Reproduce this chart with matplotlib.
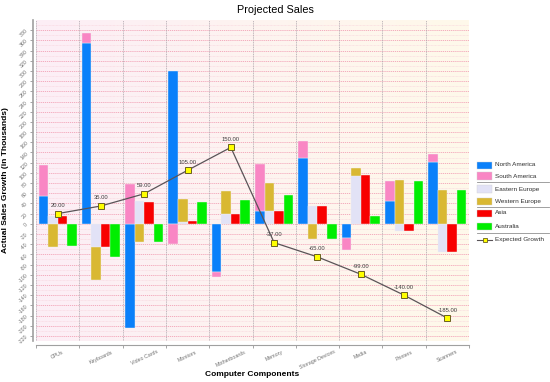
import matplotlib
matplotlib.use("Agg")
import matplotlib.pyplot as plt
from matplotlib.patches import Rectangle
from matplotlib.lines import Line2D
from matplotlib.colors import LinearSegmentedColormap
import numpy as np

plt.rcParams["font.family"] = ["Liberation Sans", "DejaVu Sans"]

# ─────────────────────────────────────────────
# DATA
# ─────────────────────────────────────────────
categories = ["CPUs", "Keyboards", "Video Cards", "Monitors", "Motherboards",
              "Memory", "Storage Devices", "Media", "Printers", "Scanners"]

north_america = [55, 355, -205, 300, -95, 25, 130, -27, 44, 122]
south_america = [60, 20, 78, -40, -10, 93, 33, -25, 40, 15]
eastern_europe = [15, -45, 45, 4, 19, 25, 35, 94, -15, -55]
western_europe = [-45, -65, -35, 44, 45, 55, -30, 16, 86, 66]
asia = [15, -45, 42, 5, 20, 25, 35, 95, -14, -55]
australia = [-44, -65, -35, 42, 46, 56, -29, 15, 85, 66]
expected_growth = [20, 35, 59, 105, 150, -37, -65, -99, -140, -185]

y_ticks = list(range(-220, 381, 20))

C_NA = "#0A80FA"
C_SA = "#F986C4"
C_EE = "#E2E2F6"
C_WE = "#D9B832"
C_ASIA = "#F80000"
C_AUS = "#00EE00"


def stack_bottoms(first, second):
    """bottoms for a two-part stack, positives and negatives piled separately"""
    b1 = np.zeros(len(first))
    b2 = np.array([f if (f >= 0) == (s >= 0) else 0 for f, s in zip(first, second)], float)
    return b1, b2


def fx(px):
    return px / 550


def fy(py):
    return 1 - py / 382


# ─────────────────────────────────────────────
# FIGURE
# ─────────────────────────────────────────────
fig = plt.figure(figsize=(5.5, 3.82), dpi=100)
ax = fig.add_axes([fx(36), fy(341), 433 / 550, 321 / 382])

x = np.arange(len(categories))
ax.set_xlim(-0.5, len(categories) - 0.5)
ax.set_ylim(-230, 400)

# background gradient pink -> cream
grad = np.linspace(0, 1, 256).reshape(1, -1)
bg = LinearSegmentedColormap.from_list("bg", ["#FCEEF6", "#FFF9EA"])
ax.imshow(grad, cmap=bg, aspect="auto", extent=(-0.5, len(categories) - 0.5, -230, 400),
          zorder=0)

# grid
for v in np.arange(-230, 400, 10):
    major = v % 20 == 0
    ax.axhline(v, color="#F2A2B6" if major else "#F8D0DA", lw=0.6 if major else 0.4,
               ls=(0, (1.5, 1)), zorder=1)
for b in np.arange(-0.5, len(categories), 1):
    ax.axvline(b, color="#A8A0A8", lw=0.5, ls=(0, (1.5, 1)), zorder=1)

w = 0.22
offs = [-1.5 * w, -0.5 * w, 0.5 * w, 1.5 * w]
edge = dict(edgecolor="#F0F0F0", linewidth=0.3, zorder=3)

b1, b2 = stack_bottoms(north_america, south_america)
ax.bar(x + offs[0], north_america, w, bottom=b1, color=C_NA, **edge)
ax.bar(x + offs[0], south_america, w, bottom=b2, color=C_SA, **edge)
b1, b2 = stack_bottoms(eastern_europe, western_europe)
ax.bar(x + offs[1], eastern_europe, w, bottom=b1, color=C_EE, **edge)
ax.bar(x + offs[1], western_europe, w, bottom=b2, color=C_WE, **edge)
ax.bar(x + offs[2], asia, w, color=C_ASIA, **edge)
ax.bar(x + offs[3], australia, w, color=C_AUS, **edge)

ax.plot(x, expected_growth, color="#5A5458", lw=0.9, marker="s", ms=4.2,
        mfc="#FFFF00", mec="#6A6020", mew=0.7, zorder=5)
for xi, v in zip(x, expected_growth):
    ax.annotate(f"{v:.2f}", (xi, v), xytext=(0, 4),
                textcoords="offset points", ha="center", va="bottom", fontsize=4.2,
                color="#404040", zorder=6)

# axes styling
for s in ["top", "right"]:
    ax.spines[s].set_visible(False)
ax.spines["left"].set_position(("outward", 2))
ax.spines["bottom"].set_position(("outward", 3))
ax.spines["left"].set_color("#A0A0A0")
ax.spines["bottom"].set_color("#A0A0A0")
ax.spines["left"].set_linewidth(1.2)
ax.spines["bottom"].set_linewidth(0.8)

ax.set_yticks(y_ticks)
ax.set_yticklabels([str(t) for t in y_ticks], rotation=45, fontsize=3.8, color="#707070")
ax.tick_params(axis="y", length=2, width=0.5, color="#808080", pad=1)

ax.set_xticks(np.arange(-0.5, len(categories), 1), minor=False)
ax.set_xticklabels([])
ax.tick_params(axis="x", length=2.5, width=0.5, color="#808080")
ax.set_xticks(x, minor=True)
ax.set_xticklabels(categories, minor=True, rotation=25, fontsize=3.8, color="#707070")
ax.tick_params(axis="x", which="minor", length=0, pad=3)

ax.set_ylabel("Actual Sales Growth (in Thousands)", fontsize=6, fontweight="bold")
ax.yaxis.set_label_coords(-0.062, 0.5)
fig.text(fx(252), fy(374), "Computer Components", fontsize=6, fontweight="bold",
         ha="center", va="center")
fig.suptitle("Projected Sales", fontsize=7.8, y=0.987)

# legend drawn by hand so it can carry the group separators
entries = [("North America", C_NA, 165), ("South America", C_SA, 176),
           ("Eastern Europe", C_EE, 189), ("Western Europe", C_WE, 201),
           ("Asia", C_ASIA, 213), ("Australia", C_AUS, 226)]
for label, col, py in entries:
    fig.patches.append(Rectangle((fx(477), fy(py + 3.5)), fx(15), 7 / 382, facecolor=col,
                                 edgecolor="#D0D0D0", linewidth=0.3,
                                 transform=fig.transFigure))
    fig.text(fx(495), fy(py), label, fontsize=4.6, color="#303030", va="center")
for py in [182.5, 207, 232.5]:
    fig.lines.append(Line2D([fx(477), fx(549)], [fy(py), fy(py)], color="#909090", lw=0.6,
                            transform=fig.transFigure))
fig.lines.append(Line2D([fx(477), fx(484.5), fx(492)], [fy(240)] * 3, color="#5A5458",
                        lw=0.8, marker="s", markevery=[1], ms=3.5, mfc="#FFFF00",
                        mec="#6A6020", mew=0.6, transform=fig.transFigure))
fig.text(fx(495), fy(240), "Expected Growth", fontsize=4.6, color="#303030", va="center")

fig.savefig("out.png", dpi=100)
